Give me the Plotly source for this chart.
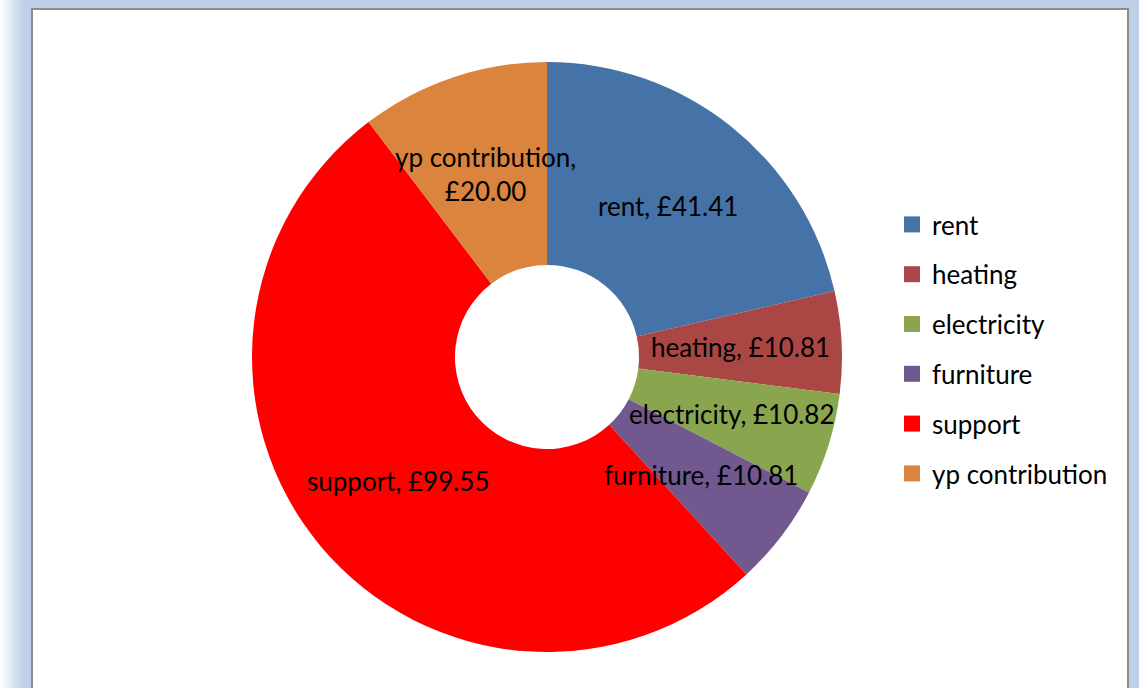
import math
import plotly.graph_objects as go

# ---- data ----
categories = ["rent", "heating", "electricity", "furniture", "support", "yp contribution"]
values = [41.41, 10.81, 10.82, 10.81, 99.55, 20.00]
colors = ["#4572A7", "#AA4643", "#89A54E", "#71588F", "#FF0000", "#DB843D"]
label_texts = ["rent, £41.41", "heating, £10.81", "electricity, £10.82",
               "furniture, £10.81", "support, £99.55", "yp contribution,<br>£20.00"]

W, H = 1139, 688
FONT = "Lato"
FS = 26

# pie placement (pixels)
cx, cy, R = 547, 357, 295
hole = 0.312

fig = go.Figure()
fig.add_trace(go.Pie(
    labels=categories, values=values, sort=False, direction="clockwise", rotation=0,
    hole=hole, marker=dict(colors=colors, line=dict(width=0)),
    textinfo="none", hoverinfo="label+value", showlegend=False,
    domain=dict(x=[(cx - R) / W, (cx + R) / W], y=[1 - (cy + R) / H, 1 - (cy - R) / H]),
))

# legend entries via dummy traces
for c, col in zip(categories, colors):
    fig.add_trace(go.Scatter(x=[None], y=[None], mode="markers", name=c,
                             marker=dict(symbol="square", size=16, color=col),
                             legendgroup=c, showlegend=True))

# data labels at ring mid-radius, derived from cumulative values
total = sum(values)
rmid = R * (1 + hole) / 2
annotations = []
cum = 0.0
for v, t in zip(values, label_texts):
    th = 2 * math.pi * (cum + v / 2) / total
    cum += v
    xp = cx + rmid * math.sin(th)
    yp = cy - rmid * math.cos(th)
    annotations.append(dict(x=xp / W, y=1 - yp / H, xref="paper", yref="paper",
                            xanchor="center", yanchor="middle",
                            text=t, showarrow=False,
                            font=dict(family=FONT, size=FS, color="black")))

# background frame shapes
blue = (190, 208, 231)
shapes = []
steps = 8
for i in range(steps):
    f = (i + 0.5) / steps
    col = tuple(int(255 + (b - 255) * f) for b in blue)
    shapes.append(dict(type="rect", xref="paper", yref="paper",
                       x0=i * 3 / W, x1=(i + 1) * 3 / W, y0=0, y1=1,
                       fillcolor="rgb(%d,%d,%d)" % col, line=dict(width=0), layer="below"))
shapes.append(dict(type="rect", xref="paper", yref="paper",
                   x0=32 / W, x1=1128 / W, y0=-0.05, y1=1 - 9 / H,
                   fillcolor="white", line=dict(color="#8C8C8C", width=2), layer="below"))

fig.update_layout(
    width=W, height=H, margin=dict(l=0, r=0, t=0, b=0),
    paper_bgcolor="rgb(%d,%d,%d)" % blue, plot_bgcolor="rgba(0,0,0,0)",
    xaxis=dict(visible=False), yaxis=dict(visible=False),
    font=dict(family=FONT, size=FS, color="black"),
    legend=dict(x=892 / W, y=1 - 201 / H, xanchor="left", yanchor="top",
                bgcolor="rgba(0,0,0,0)", tracegroupgap=13, itemwidth=30,
                font=dict(family=FONT, size=FS, color="black")),
    annotations=annotations, shapes=shapes,
)

fig.write_html("out.html")
